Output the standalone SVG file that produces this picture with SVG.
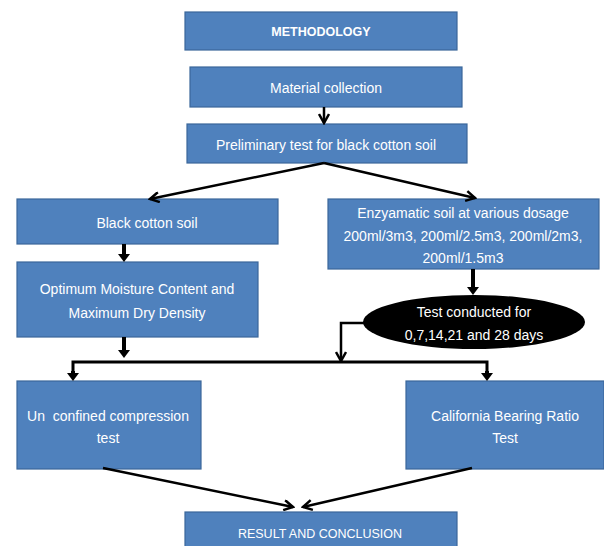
<svg xmlns="http://www.w3.org/2000/svg" width="604" height="546" viewBox="0 0 604 546">
<style>
.box{fill:#4F81BD;stroke:#3B679A;stroke-width:1.2}
.t{font-family:"Liberation Sans",Arial,sans-serif;font-size:14px;fill:#ffffff;text-anchor:middle}
.b{font-weight:bold;font-size:12.5px}
.thin{stroke:#000;stroke-width:2.5;fill:none}
.thick{stroke:#000;stroke-width:4;fill:none}
</style>
<defs>
<marker id="open" markerUnits="userSpaceOnUse" viewBox="0 0 12 12" markerWidth="12" markerHeight="12" refX="10" refY="6" orient="auto">
<path d="M1,1 L10,6 L1,11" fill="none" stroke="#000" stroke-width="2.5"/>
</marker>
<marker id="fill" markerUnits="userSpaceOnUse" viewBox="0 0 8 12" markerWidth="8" markerHeight="12" refX="0" refY="6" orient="auto">
<path d="M0,0 L8,6 L0,12 z" fill="#000"/>
</marker>
</defs>
<rect width="604" height="546" fill="#fff"/>
<g id="methodology"><rect class="box" x="185" y="12" width="272" height="38"/><text class="t b" x="321" y="35.5">METHODOLOGY</text></g>
<g id="material"><rect class="box" x="190" y="67" width="272" height="40"/><text class="t" x="326" y="93">Material collection</text></g>
<g id="preliminary"><rect class="box" x="187" y="124" width="280" height="39"/><text class="t" x="326" y="150">Preliminary test for black cotton soil</text></g>
<g id="black"><rect class="box" x="17" y="199" width="261" height="45"/><text class="t" x="147" y="228">Black cotton soil</text></g>
<g id="omc"><rect class="box" x="17" y="262" width="241" height="75"/><text class="t" x="137" y="294">Optimum Moisture Content and</text><text class="t" x="137" y="318">Maximum Dry Density</text></g>
<g id="enzymatic"><rect class="box" x="328" y="199" width="271" height="70"/><text class="t" x="463" y="218">Enzyamatic soil at various dosage</text><text class="t" x="463" y="241">200ml/3m3, 200ml/2.5m3, 200ml/2m3,</text><text class="t" x="463" y="263">200ml/1.5m3</text></g>
<g id="testdays"><ellipse cx="474" cy="322" rx="111" ry="27" fill="#000"/><text class="t" x="474" y="317">Test conducted for</text><text class="t" x="474" y="340">0,7,14,21 and 28 days</text></g>
<g id="ucs"><rect class="box" x="17" y="381" width="184" height="88"/><text class="t" x="108" y="421" xml:space="preserve">Un  confined compression</text><text class="t" x="108" y="443">test</text></g>
<g id="cbr"><rect class="box" x="406" y="381" width="198" height="88"/><text class="t" x="505" y="421">California Bearing Ratio</text><text class="t" x="505" y="443">Test</text></g>
<g id="result"><rect class="box" x="185" y="512" width="272" height="40"/><text class="t" x="320" y="538" style="font-size:12.5px">RESULT AND CONCLUSION</text></g>
<g id="connectors">
<line class="thin" x1="324" y1="107" x2="324" y2="123" marker-end="url(#open)"/>
<line class="thin" x1="324" y1="163" x2="150" y2="199" marker-end="url(#open)"/>
<line class="thin" x1="324" y1="163" x2="475" y2="198" marker-end="url(#open)"/>
<line class="thick" x1="124" y1="244" x2="124" y2="254" marker-end="url(#fill)"/>
<line class="thick" x1="124" y1="337" x2="124" y2="350" marker-end="url(#fill)"/>
<line class="thick" x1="473" y1="269" x2="473" y2="287" marker-end="url(#fill)"/>
<polyline class="thick" style="stroke-width:3" points="73,373 73,362 487,362 487,373"/>
<line class="thick" x1="73" y1="371" x2="73" y2="373" marker-end="url(#fill)"/>
<line class="thick" x1="487" y1="371" x2="487" y2="373" marker-end="url(#fill)"/>
<polyline class="thin" points="364,323 341,323 341,361" marker-end="url(#open)"/>
<line class="thin" x1="103" y1="468" x2="293" y2="507" marker-end="url(#open)"/>
<line class="thin" x1="472" y1="468" x2="303" y2="507" marker-end="url(#open)"/>
</g>
</svg>
